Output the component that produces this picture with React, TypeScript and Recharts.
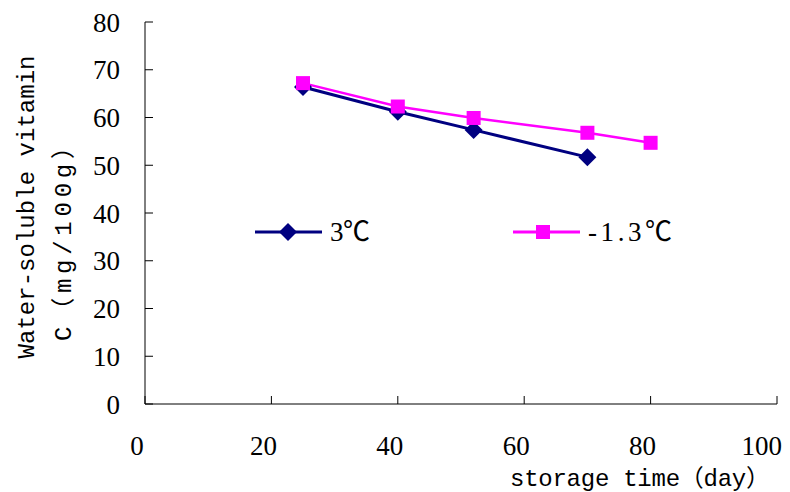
import { LineChart, Line, XAxis, YAxis } from "recharts"

const days = [25, 40, 52, 70, 80]
const temp3 = [66.4, 61.2, 57.4, 51.7, null]
const tempMinus13 = [67.2, 62.3, 59.9, 56.8, 54.7]
const xTicks = [0, 20, 40, 60, 80, 100]
const yTicks = [0, 10, 20, 30, 40, 50, 60, 70, 80]

const data = days.map((d, i) => ({ day: d, a: temp3[i], b: tempMinus13[i] }))

const NAVY = "#000080"
const PINK = "#FF00FF"
const serif = "Liberation Serif, Noto Sans CJK SC, serif"
const mono = "Liberation Mono, Noto Sans CJK SC, monospace"

const Diamond = (props: any) => {
  const { cx, cy } = props
  if (cx == null || cy == null) return null
  return <polygon points={`${cx},${cy - 9} ${cx + 9},${cy} ${cx},${cy + 9} ${cx - 9},${cy}`} fill={NAVY} />
}

const Square = (props: any) => {
  const { cx, cy } = props
  if (cx == null || cy == null) return null
  return <rect x={cx - 7} y={cy - 7} width={14} height={14} fill={PINK} />
}

const YLabel = (props: any) => {
  const vb = props.viewBox || {}
  const cy = vb.y + vb.height / 2
  return (
    <g fontFamily={mono} fontSize={24} fill="#000">
      <text x={34} y={cy - 6} transform={`rotate(-90, 34, ${cy - 6})`} textAnchor="middle" textLength={303} lengthAdjust="spacing">
        Water-soluble vitamin
      </text>
      <text x={71} y={cy + 25} transform={`rotate(-90, 71, ${cy + 25})`} textAnchor="middle" textLength={206} lengthAdjust="spacing">
        C（mg/100g）
      </text>
    </g>
  )
}

const XLabel = () => (
  <text x={640} y={486} fontFamily={mono} fontSize={24} textAnchor="middle" textLength={260} lengthAdjust="spacing">
    storage time（day）
  </text>
)

const LegendBox = () => (
  <svg width={440} height={40} style={{ position: "absolute", left: 250, top: 212 }}>
    <line x1={5} y1={20} x2={72} y2={20} stroke={NAVY} strokeWidth={3} />
    <polygon points="38,11 47,20 38,29 29,20" fill={NAVY} />
    <text x={80} y={29} fontFamily={serif} fontSize={27} textLength={40} lengthAdjust="spacing">3℃</text>
    <line x1={263} y1={20} x2={330} y2={20} stroke={PINK} strokeWidth={3} />
    <rect x={286} y={13} width={14} height={14} fill={PINK} />
    <text x={338} y={29} fontFamily={serif} fontSize={27} textLength={84} lengthAdjust="spacing">-1.3℃</text>
  </svg>
)

export default function App() {
  return (
    <div style={{ position: "absolute", left: 0, top: 0, width: 790, height: 492, background: "#fff" }}>
      <LineChart width={790} height={492} data={data} margin={{ top: 22, right: 13, left: 0, bottom: 0 }}>
        <XAxis
          dataKey="day"
          type="number"
          domain={[0, 100]}
          ticks={xTicks}
          height={88}
          stroke="#000"
          tickSize={-8}
          tickMargin={40}
          fontSize={27}
          fontFamily={serif}
          tick={{ fill: "#000", fontSize: 27, fontFamily: serif, dx: -8 }}
          label={<XLabel />}
        />
        <XAxis xAxisId="top" orientation="top" dataKey="day" type="number" domain={[0, 100]} height={0} tick={false} tickLine={false} stroke="#000" />
        <YAxis
          domain={[0, 80]}
          ticks={yTicks}
          width={145}
          stroke="#000"
          tickSize={-8}
          tickMargin={33}
          fontSize={27}
          fontFamily={serif}
          tick={{ fill: "#000", fontSize: 27, fontFamily: serif }}
          label={<YLabel />}
        />
        <YAxis yAxisId="right" orientation="right" domain={[0, 80]} width={0} tick={false} tickLine={false} stroke="#000" />
        <Line dataKey="a" stroke={NAVY} strokeWidth={3} dot={<Diamond />} activeDot={false} isAnimationActive={false} connectNulls />
        <Line dataKey="b" stroke={PINK} strokeWidth={2.5} dot={<Square />} activeDot={false} isAnimationActive={false} />
      </LineChart>
      <LegendBox />
    </div>
  )
}
